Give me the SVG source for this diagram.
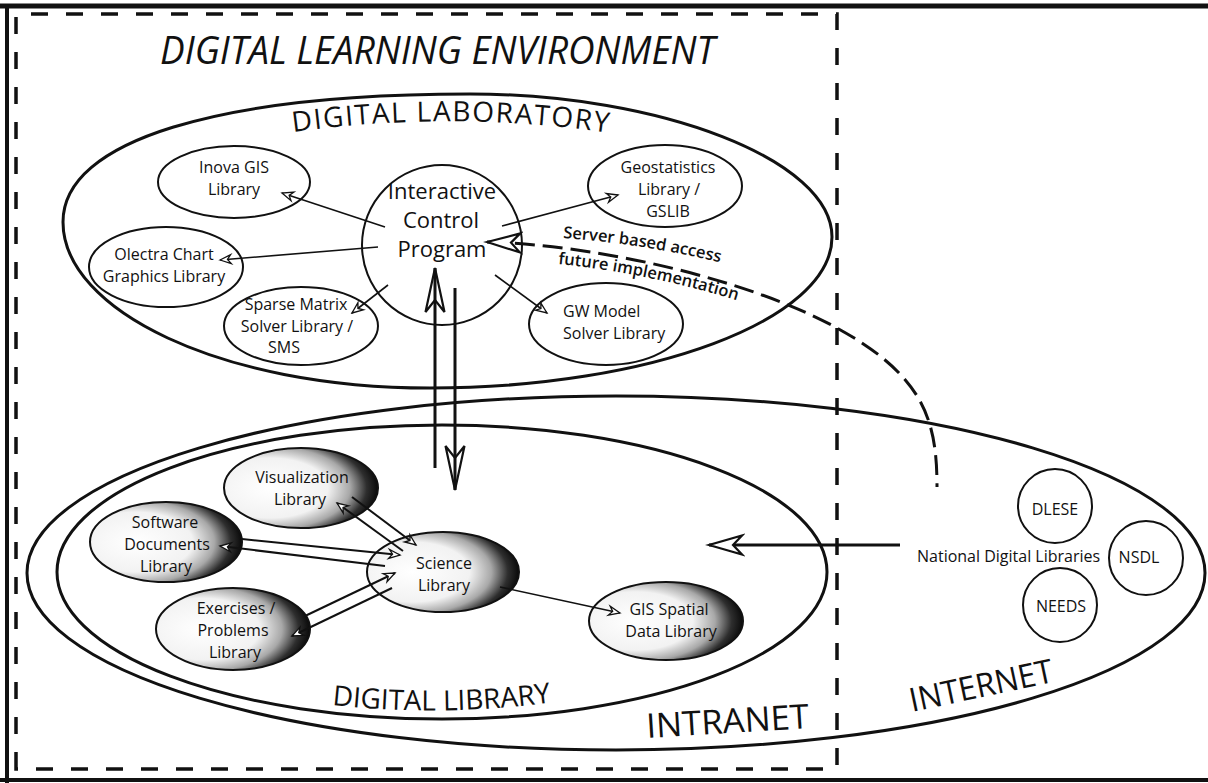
<svg xmlns="http://www.w3.org/2000/svg" width="1208" height="783" viewBox="0 0 1208 783">
  <style>
    text { font-family: "Open Sans", "Liberation Sans", sans-serif; fill: #111; }
    .lbl { font-size: 16px; text-anchor: middle; }
    .lbl.left { text-anchor: start; }
    .big { font-size: 22px; text-anchor: middle; }
    .zonelbl { font-size: 28px; }
    .edge { font-size: 16.5px; font-weight: 600; }
    .node { fill: #fff; stroke: #111; stroke-width: 2; }
    .lib { fill: url(#shade); stroke: #111; stroke-width: 2; }
    .zone { fill: none; stroke: #111; stroke-width: 3; }
    .c { fill: none; stroke: #111; }
    .thin { stroke-width: 1.6; }
    .mid { stroke-width: 2; }
    .thick { stroke-width: 3; }
  </style>
  <defs>
    <radialGradient id="shade" cx="0.3" cy="0.5" r="0.72" fx="0.3" fy="0.5">
      <stop offset="0" stop-color="#ffffff"/>
      <stop offset="0.52" stop-color="#f2f2f2"/>
      <stop offset="0.72" stop-color="#a8a8a8"/>
      <stop offset="0.87" stop-color="#2e2e2e"/>
      <stop offset="1" stop-color="#000000"/>
    </radialGradient>
    <!-- small open barbed head -->
    <marker id="aS" viewBox="-14 -7 16 14" refX="0" refY="0" markerWidth="16" markerHeight="14" markerUnits="userSpaceOnUse" orient="auto">
      <path d="M0,0 L-11,-4.5 L-7.5,0 L-11,4.5 Z" fill="#fff" stroke="#111" stroke-width="1.3"/>
    </marker>
    <!-- medium open barbed head -->
    <marker id="aM" viewBox="-36 -12 40 24" refX="0" refY="0" markerWidth="40" markerHeight="24" markerUnits="userSpaceOnUse" orient="auto-start-reverse">
      <path d="M0,0 L-33,-9.5 L-24,0 L-33,9.5 Z" fill="#fff" stroke="#111" stroke-width="2.2"/>
    </marker>
    <!-- large open barbed head -->
    <marker id="aL" viewBox="-48 -12 52 24" refX="0" refY="0" markerWidth="52" markerHeight="24" markerUnits="userSpaceOnUse" orient="auto">
      <path d="M0,0 L-44,-9.5 L-32,0 L-44,9.5 Z" fill="none" stroke="#111" stroke-width="2.2"/>
    </marker>
  </defs>

  <rect width="1208" height="783" fill="#fff"/>

  <!-- outer frame -->
  <g id="frame" fill="none" stroke="#111">
    <line x1="0" y1="6" x2="1208" y2="6" stroke-width="5"/>
    <line x1="7" y1="4" x2="7" y2="783" stroke-width="4"/>
    <line x1="0" y1="780" x2="1208" y2="780" stroke-width="4"/>
  </g>

  <!-- learning environment boundary -->
  <path id="environment" d="M16,769 L16,14 L837,14 L837,769 Z" fill="none" stroke="#111" stroke-width="3.5" stroke-dasharray="17 18"/>

  <!-- zones -->
  <g id="zones">
    <ellipse id="internet" class="zone" cx="616" cy="573" rx="589" ry="177"/>
    <ellipse id="digital-library" class="zone" cx="442" cy="572" rx="385" ry="147"/>
    <path id="digital-laboratory" class="zone" d="M63,222 C63,140 220,94 470,94 C660,94 832,160 832,237 C832,320 650,388 430,388 C220,388 63,310 63,222 Z"/>
  </g>

  <g id="zone-labels">
    <text x="160" y="64" font-size="38" font-style="italic" textLength="555" lengthAdjust="spacingAndGlyphs">DIGITAL LEARNING ENVIRONMENT</text>
    <path id="labArc" d="M293,132 Q451,110 611,133" fill="none"/>
    <text class="zonelbl" letter-spacing="1.6"><textPath href="#labArc">DIGITAL LABORATORY</textPath></text>
    <path id="libArc" d="M332,705 Q450,718 568,700" fill="none"/>
    <text class="zonelbl"><textPath href="#libArc">DIGITAL LIBRARY</textPath></text>
    <text x="647" y="738" font-size="34" textLength="163" lengthAdjust="spacingAndGlyphs" transform="rotate(-3.5 647 738)">INTRANET</text>
    <text x="912" y="712" font-size="33" textLength="146" lengthAdjust="spacingAndGlyphs" transform="rotate(-12 912 712)">INTERNET</text>
  </g>

  <!-- laboratory nodes -->
  <g id="inova">
    <ellipse class="node" cx="234" cy="182" rx="76" ry="36"/>
    <text class="lbl" x="234" y="173">Inova GIS</text>
    <text class="lbl" x="234" y="195">Library</text>
  </g>
  <g id="olectra">
    <ellipse class="node" cx="166" cy="267" rx="77" ry="40"/>
    <text class="lbl" x="164" y="260">Olectra Chart</text>
    <text class="lbl" x="164" y="282">Graphics Library</text>
  </g>
  <g id="sparse">
    <ellipse class="node" cx="301" cy="326" rx="77" ry="39"/>
    <text class="lbl" x="296" y="310">Sparse Matrix</text>
    <text class="lbl" x="297" y="332">Solver Library /</text>
    <text class="lbl" x="284" y="353">SMS</text>
  </g>
  <g id="control-program">
    <circle class="node" cx="442" cy="245" r="80" stroke-width="2.4"/>
    <text class="big" x="442" y="199">Interactive</text>
    <text class="big" x="441" y="228">Control</text>
    <text class="big" x="442" y="257">Program</text>
  </g>
  <g id="geostatistics">
    <ellipse class="node" cx="665" cy="186" rx="77" ry="41"/>
    <text class="lbl" x="668" y="173">Geostatistics</text>
    <text class="lbl" x="669" y="195">Library /</text>
    <text class="lbl" x="668" y="217">GSLIB</text>
  </g>
  <g id="gw-model">
    <ellipse class="node" cx="606" cy="324" rx="77" ry="41"/>
    <text class="lbl left" x="563" y="317">GW Model</text>
    <text class="lbl left" x="563" y="339">Solver Library</text>
  </g>

  <!-- library nodes -->
  <g id="visualization">
    <ellipse class="lib" cx="301" cy="488" rx="77" ry="40"/>
    <text class="lbl" x="302" y="483">Visualization</text>
    <text class="lbl" x="300" y="505">Library</text>
  </g>
  <g id="software-docs">
    <ellipse class="lib" cx="166" cy="542" rx="76" ry="40"/>
    <text class="lbl" x="165" y="528">Software</text>
    <text class="lbl" x="167" y="550">Documents</text>
    <text class="lbl" x="166" y="572">Library</text>
  </g>
  <g id="exercises">
    <ellipse class="lib" cx="233" cy="629" rx="77" ry="41"/>
    <text class="lbl" x="236" y="614">Exercises /</text>
    <text class="lbl" x="233" y="636">Problems</text>
    <text class="lbl" x="235" y="658">Library</text>
  </g>
  <g id="science">
    <ellipse class="lib" cx="443" cy="572" rx="76" ry="40"/>
    <text class="lbl" x="444" y="569">Science</text>
    <text class="lbl" x="444" y="591">Library</text>
  </g>
  <g id="gis-spatial">
    <ellipse class="lib" cx="666" cy="621" rx="77" ry="39"/>
    <text class="lbl" x="669" y="615">GIS Spatial</text>
    <text class="lbl" x="671" y="637">Data Library</text>
  </g>

  <!-- national digital libraries -->
  <g id="dlese">
    <circle class="node" cx="1055" cy="506" r="37"/>
    <text class="lbl" x="1055" y="515">DLESE</text>
  </g>
  <g id="nsdl">
    <circle class="node" cx="1146" cy="558" r="37"/>
    <text class="lbl" x="1139" y="563">NSDL</text>
  </g>
  <g id="needs">
    <circle class="node" cx="1060" cy="605" r="37"/>
    <text class="lbl" x="1061" y="612">NEEDS</text>
  </g>
  <g id="national">
    <text x="917" y="562" font-size="16">National Digital Libraries</text>
  </g>

  <!-- connectors -->
  <g id="connectors">
    <line class="c thin" x1="385" y1="227" x2="282" y2="193" marker-end="url(#aS)"/>
    <line class="c thin" x1="378" y1="247" x2="220" y2="260" marker-end="url(#aS)"/>
    <line class="c thin" x1="388" y1="285" x2="352" y2="313" marker-end="url(#aS)"/>
    <line class="c thin" x1="502" y1="226" x2="618" y2="195" marker-end="url(#aS)"/>
    <line class="c thin" x1="495" y1="275" x2="547" y2="313" marker-end="url(#aS)"/>

    <line class="c thick" x1="435" y1="468" x2="435" y2="268" marker-end="url(#aL)"/>
    <line class="c thick" x1="455" y1="288" x2="455" y2="490" marker-end="url(#aL)"/>

    <path class="c thick" d="M487,242 C600,245 750,280 837,328 S937,420 937,487" stroke-dasharray="20 8" marker-start="url(#aM)"/>

    <line class="c thick" x1="900" y1="545" x2="709" y2="545" marker-end="url(#aM)"/>

    <line class="c mid" x1="352" y1="497" x2="416" y2="545" marker-end="url(#aS)"/>
    <line class="c mid" x1="403" y1="551" x2="337" y2="503" marker-end="url(#aS)"/>
    <line class="c mid" x1="242" y1="539" x2="400" y2="555" marker-end="url(#aS)"/>
    <line class="c mid" x1="385" y1="566" x2="220" y2="546" marker-end="url(#aS)"/>
    <line class="c mid" x1="305" y1="616" x2="395" y2="573" marker-end="url(#aS)"/>
    <line class="c mid" x1="392" y1="588" x2="292" y2="636" marker-end="url(#aS)"/>
    <line class="c thin" x1="500" y1="587" x2="620" y2="613" marker-end="url(#aS)"/>
  </g>

  <g id="connector-labels">
    <path id="srvArc" d="M563,238 C620,242 680,252 730,265" fill="none"/>
    <text class="edge"><textPath href="#srvArc">Server based access</textPath></text>
    <path id="futArc" d="M558,264 C620,270 690,285 745,303" fill="none"/>
    <text class="edge"><textPath href="#futArc">future implementation</textPath></text>
  </g>
</svg>
